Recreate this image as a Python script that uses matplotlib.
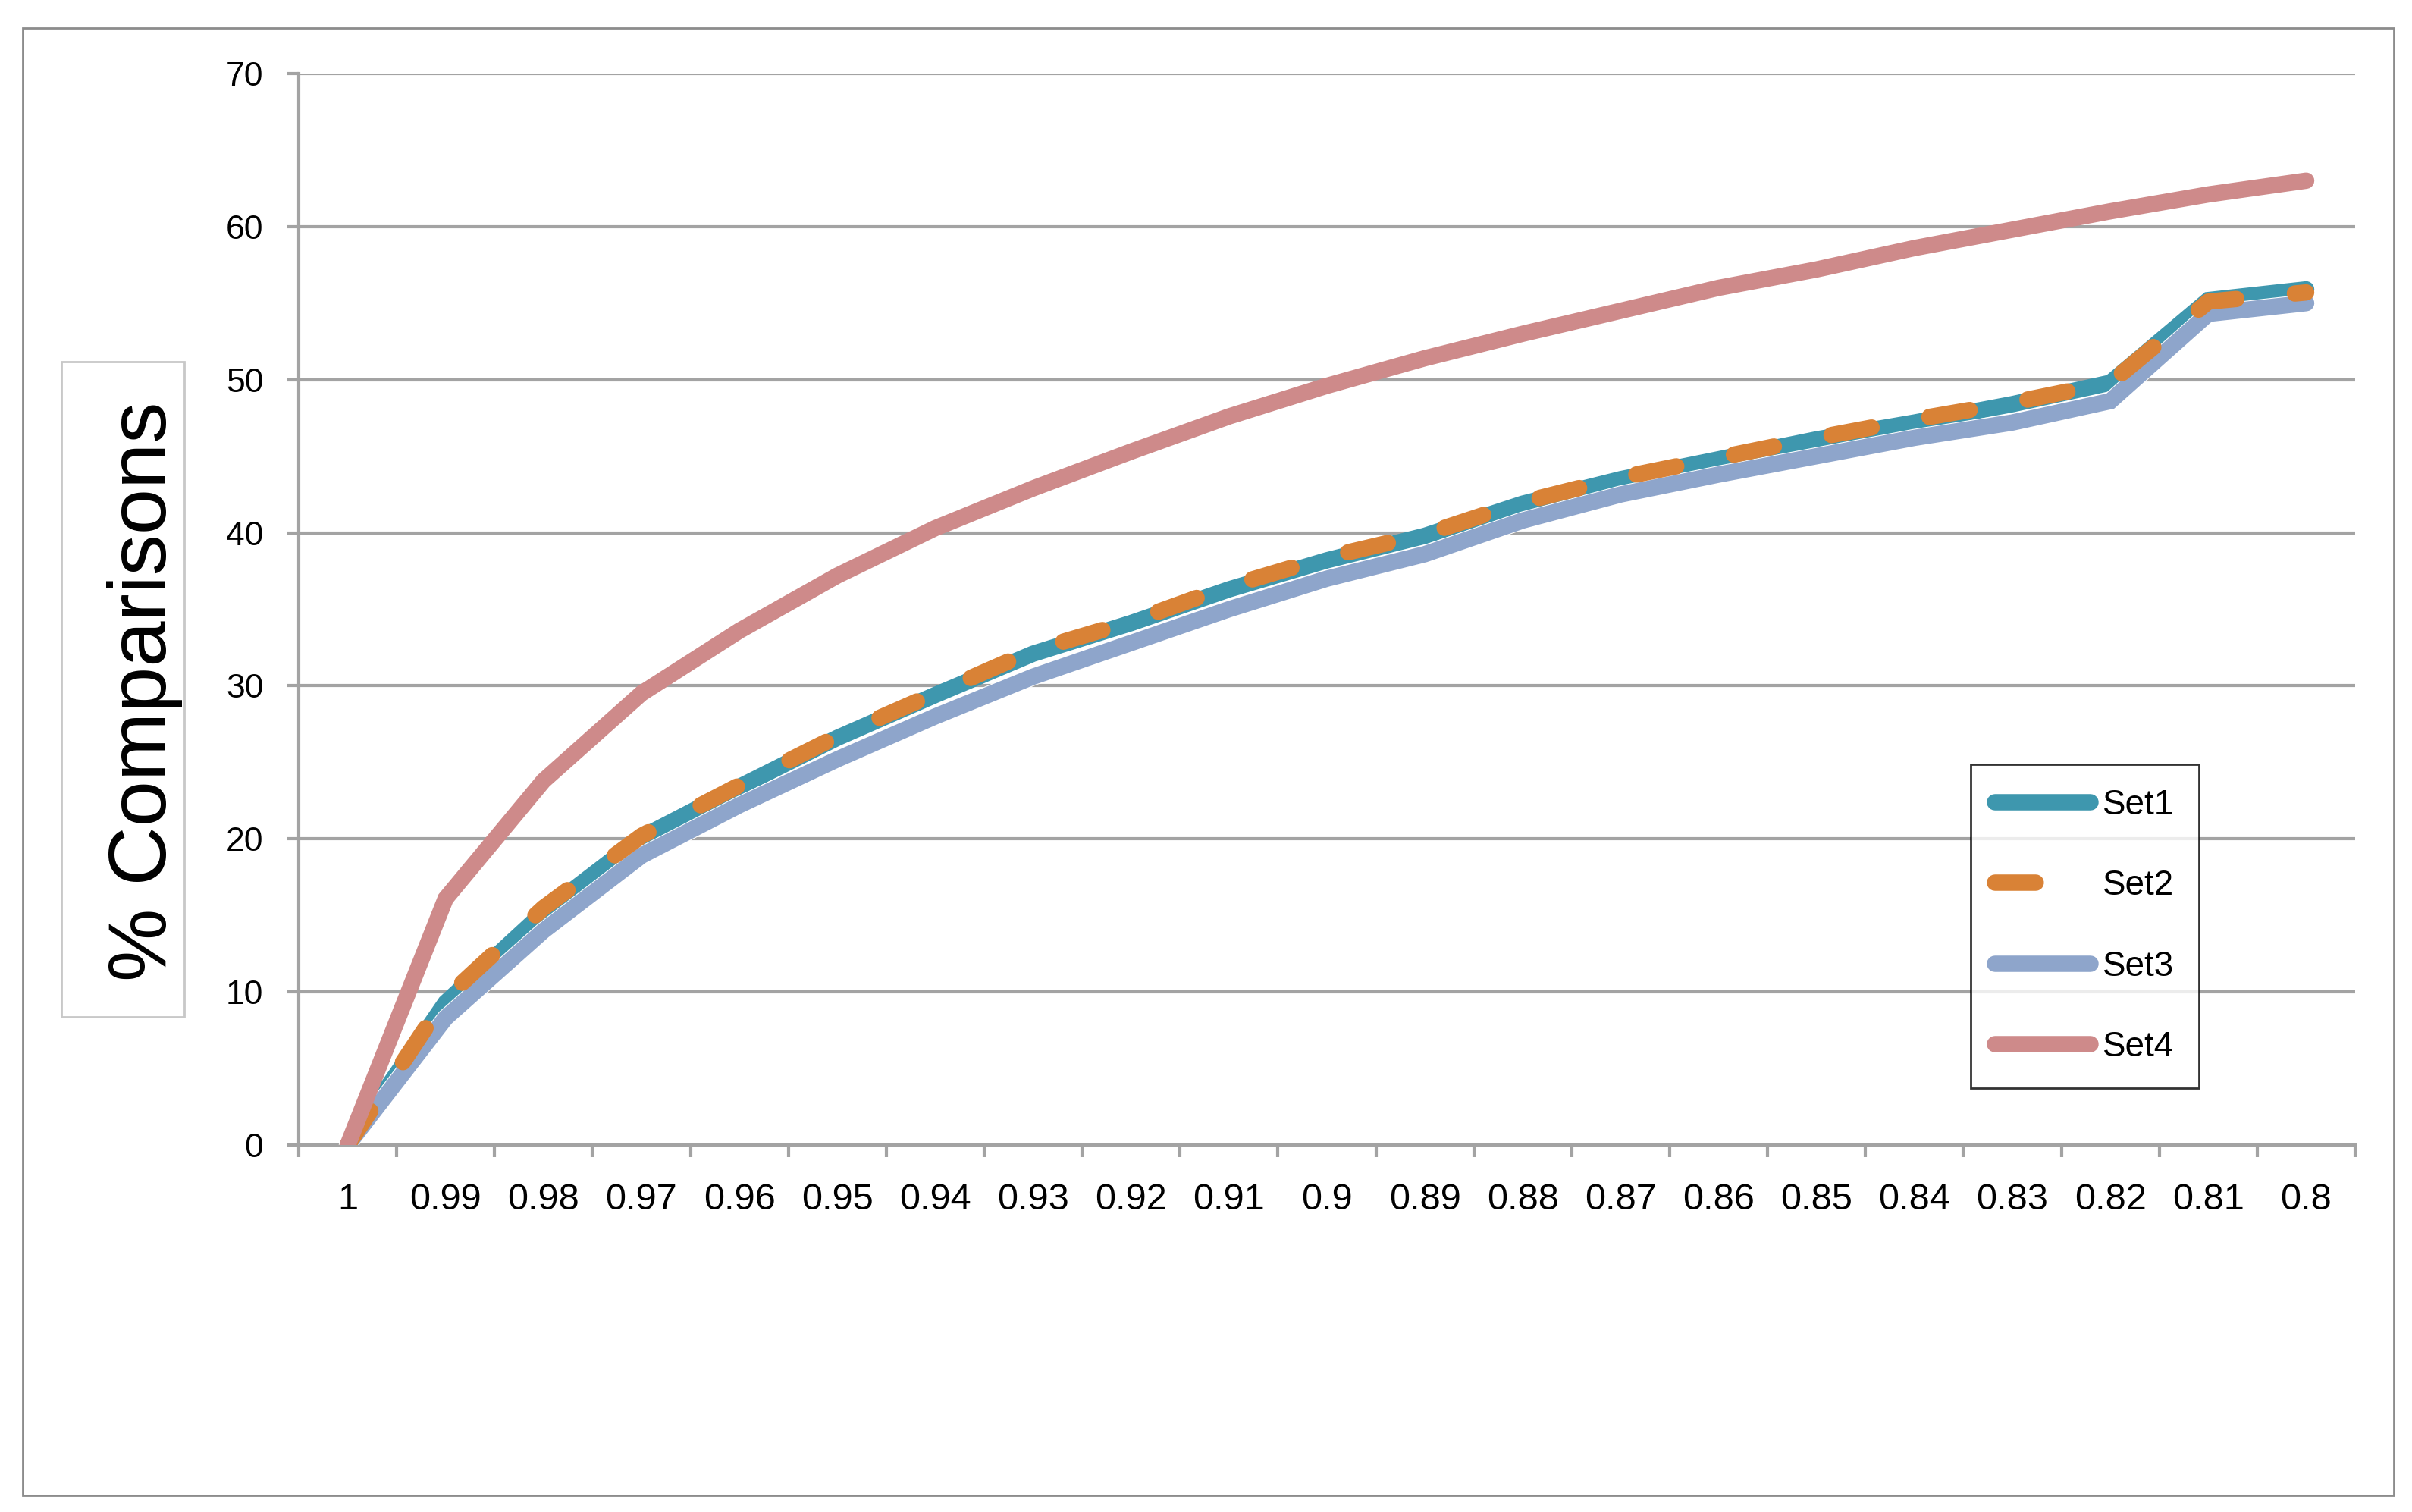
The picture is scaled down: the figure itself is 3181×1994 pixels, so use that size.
import matplotlib
matplotlib.use("Agg")
import matplotlib.pyplot as plt
import matplotlib.patches as patches
import matplotlib.patheffects as pe
import numpy as np

thresholds = ['1', '0.99', '0.98', '0.97', '0.96', '0.95', '0.94', '0.93', '0.92', '0.91', '0.9',
              '0.89', '0.88', '0.87', '0.86', '0.85', '0.84', '0.83', '0.82', '0.81', '0.8']
set1 = [0, 9.3, 15.2, 20.1, 23.4, 26.6, 29.4, 32.1, 34.1, 36.3, 38.2,
        39.8, 41.9, 43.5, 44.8, 46.1, 47.2, 48.4, 49.8, 55.2, 55.9]
set2 = [0, 9.6, 15.5, 20.2, 23.5, 26.7, 29.5, 32.3, 34.2, 36.5, 38.4,
        39.9, 42.0, 43.6, 44.9, 46.2, 47.4, 48.5, 49.8, 55.1, 55.7]
set3 = [0, 8.3, 14.0, 18.9, 22.2, 25.2, 28.0, 30.6, 32.8, 35.0, 37.0,
        38.6, 40.8, 42.5, 43.8, 45.0, 46.2, 47.2, 48.6, 54.3, 55.0]
set4 = [0, 16.1, 23.8, 29.5, 33.6, 37.2, 40.3, 42.9, 45.3, 47.6, 49.6,
        51.4, 53.0, 54.5, 56.0, 57.2, 58.6, 59.8, 61.0, 62.1, 63.0]
series_names = ['Set1', 'Set2', 'Set3', 'Set4']

GRID = '#a3a3a3'
W, H = 3181, 1994

fig = plt.figure(figsize=(W / 100, H / 100), dpi=100)
ax = fig.add_axes([394 / W, 1 - 1510 / H, (3106 - 394) / W, (1510 - 97) / H])

x = np.arange(len(thresholds))
lw = 15.5
ax.plot(x, set1, color='#3e97ae', lw=lw, solid_capstyle='round', solid_joinstyle='miter',
        label=series_names[0], zorder=3)
ax.plot(x, set3, color='#8ea5cb', lw=lw, solid_capstyle='round', solid_joinstyle='miter',
        label=series_names[2], zorder=4,
        path_effects=[pe.Stroke(linewidth=lw + 1.5, foreground='white'), pe.Normal()])
ax.plot(x, set2, color='#d98236', lw=lw, dashes=(2.5, 3.6), dash_capstyle='round',
        label=series_names[1], zorder=5)
ax.plot(x, set4, color='#ce8a8a', lw=lw, solid_capstyle='round', solid_joinstyle='miter',
        label=series_names[3], zorder=6)

ax.set_xlim(-0.5, len(thresholds) - 0.5)
ax.set_ylim(0, 70)
ax.set_yticks(np.arange(0, 71, 10))
ax.set_xticks(x)
ax.set_xticklabels(thresholds, fontfamily='Liberation Sans', fontsize=35)
ax.set_xticks(np.arange(-0.5, len(thresholds), 1), minor=True)
ax.tick_params(axis='x', which='major', length=0, pad=36)
ax.tick_params(axis='x', which='minor', length=11.5, width=3, color=GRID)
ax.tick_params(axis='y', length=11.5, width=3, color=GRID, pad=22, labelsize=32)
for lab in ax.get_yticklabels():
    lab.set_fontfamily('Liberation Sans')

ax.grid(axis='y', color=GRID, lw=3)
ax.set_axisbelow(True)
for s in ['top', 'right']:
    ax.spines[s].set_visible(False)
for s in ['left', 'bottom']:
    ax.spines[s].set_color(GRID)
    ax.spines[s].set_linewidth(3)

handles, labels = ax.get_legend_handles_labels()
order = [0, 2, 1, 3]
leg = ax.legend([handles[i] for i in order], [labels[i] for i in order],
                loc='upper left', bbox_to_anchor=(2599 / W, 1 - 1008 / H),
                bbox_transform=fig.transFigure, frameon=True, fancybox=False,
                prop={'family': 'Liberation Sans', 'size': 33},
                handlelength=2.75, handletextpad=0.35, labelspacing=1.36, borderpad=0.7,
                borderaxespad=0)
leg.get_frame().set_edgecolor('black')
leg.get_frame().set_linewidth(2)
leg.set_zorder(10)

# y label in its own grey box
fig.patches.append(patches.Rectangle((81 / W, 1 - 1341 / H), 162 / W, 864 / H,
                                     transform=fig.transFigure, fill=False,
                                     edgecolor='#c8c8c8', lw=2))
fig.text(191 / W, 1 - 912 / H, '% Comparisons', rotation=90, ha='center', va='center',
         fontfamily='Liberation Sans', fontsize=78)

# outer chart frame
fig.patches.append(patches.Rectangle((30 / W, 1 - 1972 / H), 3127 / W, 1935 / H,
                                     transform=fig.transFigure, fill=False,
                                     edgecolor='#8c8c8c', lw=2))

fig.savefig('out.png', dpi=100)
